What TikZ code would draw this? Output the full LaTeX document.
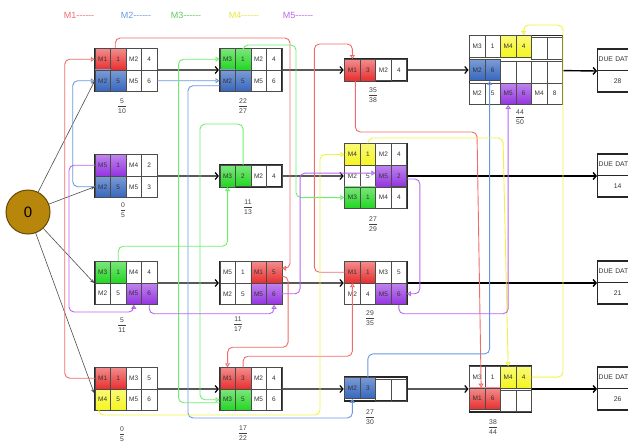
\documentclass[tikz,border=0pt]{standalone}
\usepackage{fontspec}
\setmainfont{Liberation Sans}
\usepackage{tikz}
\usetikzlibrary{arrows.meta, positioning, matrix}
\definecolor{cellred}{HTML}{E82E2E}
\definecolor{cellblue}{HTML}{3566BE}
\definecolor{cellgreen}{HTML}{22D622}
\definecolor{cellyellow}{HTML}{F5F51E}
\definecolor{cellpurple}{HTML}{9433E0}
\definecolor{lnred}{HTML}{F26B6B}
\definecolor{lnblue}{HTML}{6A98E0}
\definecolor{lngreen}{HTML}{6EEE6E}
\definecolor{lnyellow}{HTML}{F2F240}
\definecolor{lnpurple}{HTML}{B866EE}
\definecolor{gold}{HTML}{B8860B}
\newcommand{\legdash}{-{}-{}-{}-{}-{}-}

\begin{document}
\begin{tikzpicture}[
  x=1pt, y=-1pt,
  cell/.style={draw=black!70, line width=0.5pt, minimum width=15.5pt,
    minimum height=21.5pt, inner sep=0pt, text=black!80,
    font=\fontsize{6.5}{6.5}\selectfont},
  jobbox/.style={matrix of nodes, nodes in empty cells, nodes={cell},
    column sep=-0.5pt, row sep=-0.5pt, draw=black!85, line width=1.3pt,
    inner sep=0pt},
  rd/.style={top color=cellred!55!white, bottom color=cellred},
  bl/.style={top color=cellblue!65!white, bottom color=cellblue},
  gr/.style={top color=cellgreen!60!white, bottom color=cellgreen},
  yl/.style={top color=cellyellow!60!white, bottom color=cellyellow},
  pu/.style={top color=cellpurple!60!white, bottom color=cellpurple},
  frac/.style={inner sep=0pt, text=black!75, font=\fontsize{6.8}{7}\selectfont},
  due/.style={draw=black!85, line width=1.3pt, text width=38pt,
    inner xsep=1pt, inner ysep=0pt, minimum height=21.5pt,
    text=black!80, font=\fontsize{6.8}{6.8}\selectfont},
  legend/.style={inner sep=0pt, font=\fontsize{9}{9}\selectfont},
  arr/.style={draw=black!65, line width=1.2pt,
    -{Straight Barb[length=3pt,width=7pt,black]}},
  endarr/.style={draw=black, line width=1.4pt,
    -{Straight Barb[length=3pt,width=7pt]}},
  sarr/.style={draw=black!70, line width=0.6pt,
    -{Stealth[length=4pt,width=3.5pt]}},
  link/.style={line width=0.9pt, rounded corners=5pt,
    -{Triangle[open,length=4pt,width=5pt]}},
  rline/.style={link, lnred}, bline/.style={link, lnblue},
  gline/.style={link, lngreen}, yline/.style={link, lnyellow},
  pline/.style={link, lnpurple}
]
  \useasboundingbox (0,0) rectangle (628,442);
  \clip (0,0) rectangle (628,442);

  % legend
  \node[legend, text=lnred] (legA) at (79,15) {M1\legdash};
  \node[legend, text=lnblue] (legB) at (136,15) {M2\legdash};
  \node[legend, text=lngreen!85!black] (legC) at (186,15) {M3\legdash};
  \node[legend, text=lnyellow!95!black] (legD) at (244,15) {M4\legdash};
  \node[legend, text=lnpurple] (legE) at (298,15) {M5\legdash};

  \node[circle, draw=gold!55!black, line width=1pt, fill=gold, minimum size=44pt,
    inner sep=0pt, font=\fontsize{15}{15}\selectfont] (start) at (28,212) {0};

  % jobs
  \matrix[jobbox] (A) at (126,70) {
    |[rd]| M1 & |[rd]| 1 & M2 & 4 \\
    |[bl]| M2 & |[bl]| 5 & M5 & 6 \\
  };
  \matrix[jobbox, right=61pt of A] (E) {
    |[gr]| M3 & |[gr]| 1 & M2 & 4 \\
    |[bl]| M2 & |[bl]| 5 & M5 & 6 \\
  };
  \matrix[jobbox, right=61pt of E] (I) {
    |[rd]| M1 & |[rd]| 3 & M2 & 4 \\
  };
  \matrix[jobbox, right=61pt of I] (M) {
    M3 & 1 & |[yl]| M4 & |[yl]| 4 & & \\
    |[bl]| M2 & |[bl]| 6 & & & & \\
    M2 & 5 & |[pu]| M5 & |[pu]| 6 & M4 & 8 \\
  };

  \matrix[jobbox] (B) at (126,176) {
    |[pu]| M5 & |[pu]| 1 & M4 & 2 \\
    |[bl]| M2 & |[bl]| 5 & M5 & 3 \\
  };
  \matrix[jobbox, right=61pt of B] (F) {
    |[gr]| M3 & |[gr]| 2 & M2 & 4 \\
  };
  \matrix[jobbox, right=61pt of F] (J) {
    |[yl]| M4 & |[yl]| 1 & M2 & 4 \\
    M2 & 5 & |[pu]| M5 & |[pu]| 2 \\
    |[gr]| M3 & |[gr]| 1 & M4 & 4 \\
  };

  \matrix[jobbox] (C) at (126,283) {
    |[gr]| M3 & |[gr]| 1 & M4 & 4 \\
    M2 & 5 & |[pu]| M5 & |[pu]| 6 \\
  };
  \matrix[jobbox, right=61pt of C] (G) {
    M5 & 1 & |[rd]| M1 & |[rd]| 5 \\
    M2 & 5 & |[pu]| M5 & |[pu]| 6 \\
  };
  \matrix[jobbox, right=61pt of G] (K) {
    |[rd]| M1 & |[rd]| 1 & M3 & 5 \\
    M2 & 4 & |[pu]| M5 & |[pu]| 6 \\
  };

  \matrix[jobbox] (D) at (126,389) {
    |[rd]| M1 & |[rd]| 1 & M3 & 5 \\
    |[yl]| M4 & |[yl]| 5 & M5 & 6 \\
  };
  \matrix[jobbox, right=61pt of D] (H) {
    |[rd]| M1 & |[rd]| 3 & M2 & 4 \\
    |[gr]| M3 & |[gr]| 5 & M5 & 6 \\
  };
  \matrix[jobbox, right=61pt of H] (L) {
    |[bl]| M2 & |[bl]| 3 & & \\
  };
  \matrix[jobbox, right=61pt of L] (N) {
    M3 & 1 & |[yl]| M4 & |[yl]| 4 \\
    |[rd]| M1 & |[rd]| 6 & & \\
  };

  % due dates
  \node[due, align=left, anchor=south west] (dueA) at (597,71) {DUE DAT};
  \node[due, align=center, below=-1.3pt of dueA] (dueAv) {28};
  \node[due, align=left, anchor=south west] (dueB) at (597,176) {DUE DAT};
  \node[due, align=center, below=-1.3pt of dueB] (dueBv) {14};
  \node[due, align=left, anchor=south west] (dueC) at (597,283) {DUE DAT};
  \node[due, align=center, below=-1.3pt of dueC] (dueCv) {21};
  \node[due, align=left, anchor=south west] (dueD) at (597,389) {DUE DAT};
  \node[due, align=center, below=-1.3pt of dueD] (dueDv) {26};

  % start / finish times
  \node[frac] (fA) at (122,106) {$\displaystyle\frac{\mbox{5}}{\mbox{10}}$};
  \node[frac] (fE) at (243,106) {$\displaystyle\frac{\mbox{22}}{\mbox{27}}$};
  \node[frac] (fI) at (373,95) {$\displaystyle\frac{\mbox{35}}{\mbox{38}}$};
  \node[frac] (fM) at (520,117) {$\displaystyle\frac{\mbox{44}}{\mbox{50}}$};
  \node[frac] (fB) at (123,210) {$\displaystyle\frac{\mbox{0}}{\mbox{5}}$};
  \node[frac] (fF) at (248,207) {$\displaystyle\frac{\mbox{11}}{\mbox{13}}$};
  \node[frac] (fJ) at (373,224) {$\displaystyle\frac{\mbox{27}}{\mbox{29}}$};
  \node[frac] (fC) at (122,325) {$\displaystyle\frac{\mbox{5}}{\mbox{11}}$};
  \node[frac] (fG) at (238,324) {$\displaystyle\frac{\mbox{11}}{\mbox{17}}$};
  \node[frac] (fK) at (370,318) {$\displaystyle\frac{\mbox{29}}{\mbox{35}}$};
  \node[frac] (fD) at (122,434) {$\displaystyle\frac{\mbox{0}}{\mbox{5}}$};
  \node[frac] (fH) at (243,433) {$\displaystyle\frac{\mbox{17}}{\mbox{22}}$};
  \node[frac] (fL) at (370,417) {$\displaystyle\frac{\mbox{27}}{\mbox{30}}$};
  \node[frac] (fN) at (493,427) {$\displaystyle\frac{\mbox{38}}{\mbox{44}}$};

  % job routes
  \draw[sarr] (start) -- (A-2-1.west);
  \draw[sarr] (start) -- (B-2-1.west);
  \draw[sarr] (start) -- (C.west);
  \draw[sarr] (start) -- ([yshift=-4pt]D.west);
  \draw[arr] (A) -- (E);
  \draw[arr] (E) -- (I);
  \draw[arr] (I) -- (M);
  \draw[arr] (B) -- (F);
  \draw[arr] (F) -- (J);
  \draw[arr] (C) -- (G);
  \draw[arr] (G) -- (K);
  \draw[arr] (D) -- (H);
  \draw[arr] (H) -- (L);
  \draw[arr] (L) -- (N);
  \draw[endarr] (M) -- (dueA.south west);
  \draw[endarr] (J) -- (dueB.south west);
  \draw[endarr] (K) -- (dueC.south west);
  \draw[endarr] (N) -- (dueD.south west);

  % M1
  \draw[rline] (D-1-1.west) -| ([xshift=-30pt]A-1-1.west) -- (A-1-1.west);
  \draw[rline] ([xshift=-3pt]A-1-2.north) |- (290,38) |- ([yshift=4pt]G-1-4.east);
  \draw[rline] ([yshift=-4pt]G-1-4.east) -- ++(6,0) |- ([yshift=20pt]H-1-1.north) -- (H-1-1.north);
  \draw[rline] (H-1-2.north) -- ++(0,-11) -| (K-1-1.south);
  \draw[rline] (K-1-1.west) -- ++(-30,0) |- ([yshift=15pt]I-1-1.north) -- (I-1-1.north);
  \draw[rline] ([xshift=3pt]I-1-1.south) |- (477,132) -- ([xshift=4pt]N-2-1.north);
  % M2
  \draw[bline] (B-2-1.west) -| ([xshift=-22pt]A-2-1.west) -- (A-2-1.west);
  \draw[bline] (A-2-4.east) -- (E-2-1.west);
  \draw[bline] ([yshift=-5pt]E-2-1.west) -| (188,418) -| (L-1-1.south);
  \draw[bline] (L-1-2.north) -- ++(0,-23) -| ([xshift=-3pt]M-2-2.south);
  % M3
  \draw[gline] (C-1-2.north) -- ++(0,-15) -| (F-1-1.south);
  \draw[gline] (F-1-2.north) |- (200,124) |- (H-2-1.west);
  \draw[gline] ([yshift=-3pt]H-2-1.west) -| ([xshift=-41pt]E-1-1.west) -- (E-1-1.west);
  \draw[gline] (E-1-2.north) |- (296,45) |- (J-3-1.west);
  % M4
  \draw[yline] ([xshift=-4pt]D-2-1.south) |- (320,415) |- (J-1-1.west);
  \draw[yline] (J-1-2.north) |- (503,138) -- (N-1-3.north);
  \draw[yline] (N-1-4.east) -| (563,25) -| (M-1-4.north);
  % M5
  \draw[pline] (B-1-1.west) -| (69,312) -| (C-2-3.south);
  \draw[pline] (C-2-4.south) -- ++(0,9) -| (G-2-4.south);
  \draw[pline] (G-2-4.east) -- ++(18,0) |- ([yshift=3pt]J-2-3.west);
  \draw[pline] ([yshift=-3pt]J-2-4.east) -- ++(13,0) |- (K-2-4.east);
  \draw[pline] (K-2-4.south) -- ++(0,9) -| (M-3-3.south);
\end{tikzpicture}
\end{document}
